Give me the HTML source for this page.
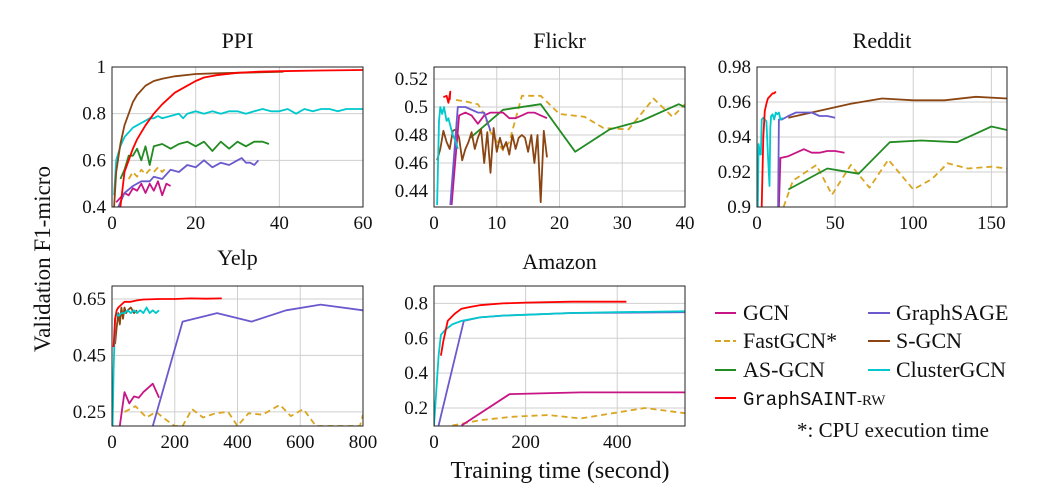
<!DOCTYPE html>
<html><head><meta charset="utf-8"><style>
body{margin:0;background:#fff}
svg{display:block;font-family:"Liberation Serif",serif}
</style></head><body>
<svg id="chart" width="1040" height="491" viewBox="0 0 1040 491"></svg>
<script>
const NS="http://www.w3.org/2000/svg";
const svg=document.getElementById('chart');
const COL={gcn:'#c71585',sage:'#6a5acd',fast:'#daa520',sgcn:'#8b4513',as:'#228b22',cluster:'#00c8cc',saint:'#ff0000'};
// ---- PPI data
const ppiSaintX=[2,3,4,5,6,8,10,12,15,18,20,22,25,30,35,40,50,60];
const ppiSaintY=[0.4,0.55,0.6,0.65,0.69,0.75,0.8,0.84,0.89,0.92,0.94,0.955,0.965,0.975,0.98,0.982,0.985,0.987];
const ppiSgcnX=[0.5,1,2,3,4,5,6,8,10,12,15,20,25,30,35,41];
const ppiSgcnY=[0.4,0.55,0.67,0.75,0.8,0.85,0.88,0.92,0.94,0.95,0.96,0.97,0.973,0.975,0.977,0.98];
const ppiClusterX=[0.5,1,2,3,4,5,6,7,8,9,10,11,12,14,16,17,18,20,22,24,26,28,30,32,34,36,38,40,42,44,46,48,50,52,54,56,58,60];
const ppiClusterY=[0.45,0.6,0.66,0.7,0.72,0.74,0.75,0.76,0.77,0.78,0.78,0.79,0.78,0.79,0.8,0.78,0.8,0.81,0.8,0.81,0.8,0.81,0.81,0.8,0.81,0.82,0.81,0.81,0.82,0.8,0.82,0.81,0.82,0.82,0.81,0.82,0.82,0.82];
const ppiAsX=[2,3,4,5,6,7,8,9,10,12,14,16,18,20,22,24,25,26,28,30,32,34,36,37.5];
const ppiAsY=[0.52,0.56,0.62,0.62,0.65,0.6,0.66,0.58,0.66,0.67,0.65,0.67,0.68,0.66,0.68,0.64,0.66,0.68,0.65,0.68,0.66,0.68,0.68,0.67];
const ppiSageX=[1.5,3,5,7,9,10,12,14,16,18,20,22,24,26,28,30,31,32,33,34,35];
const ppiSageY=[0.4,0.46,0.49,0.51,0.51,0.53,0.52,0.56,0.55,0.58,0.57,0.6,0.57,0.59,0.58,0.6,0.61,0.59,0.59,0.58,0.6];
const ppiFastX=[4,5,6,7,8,9,10,11,12,13];
const ppiFastY=[0.52,0.55,0.53,0.56,0.54,0.56,0.55,0.57,0.55,0.57];
const ppiGcnX=[1,2,3,4,5,6,7,8,9,10,11,12,13,14];
const ppiGcnY=[0.42,0.44,0.46,0.45,0.48,0.47,0.5,0.46,0.5,0.47,0.51,0.45,0.5,0.49];
// ---- Flickr data
const flSaintX=[1.5,2,2.3,2.6,2.5];
const flSaintY=[0.507,0.508,0.503,0.511,0.505];
const flClusterX=[0.5,0.8,1,1.3,1.6,2,2.3,2.7,3,3.5,3.8];
const flClusterY=[0.43,0.49,0.5,0.495,0.5,0.49,0.492,0.485,0.48,0.475,0.47];
const flSageX=[2.6,3.8,5,7,8,9];
const flSageY=[0.43,0.5,0.5,0.496,0.496,0.483];
const flGcnX=[2.8,4,5,6,7,8,9,10,11,12,13,14,15,16,17,18];
const flGcnY=[0.43,0.494,0.496,0.494,0.488,0.494,0.496,0.496,0.496,0.492,0.492,0.494,0.496,0.496,0.494,0.492];
const flFastX=[3.5,5,7,8,9,11,12,14,17,20,24,27,31,35,38,40];
const flFastY=[0.505,0.504,0.502,0.495,0.482,0.469,0.475,0.508,0.508,0.495,0.493,0.485,0.484,0.506,0.493,0.502];
const flAsX=[5.8,11,17,22.5,28,33,39,40];
const flAsY=[0.478,0.498,0.502,0.468,0.484,0.49,0.502,0.5];
const flSgcnX=[0.5,1,1.5,2,2.5,3,3.5,4,4.5,5,5.5,6,6.5,7,7.5,8,8.5,9,9.5,10,10.5,11,11.5,12,12.5,13,13.5,14,14.5,15,15.5,16,16.5,17,17.5,18];
const flSgcnY=[0.462,0.47,0.483,0.475,0.47,0.483,0.484,0.478,0.462,0.47,0.475,0.482,0.47,0.478,0.484,0.46,0.482,0.453,0.485,0.468,0.478,0.47,0.475,0.466,0.48,0.47,0.478,0.48,0.478,0.468,0.48,0.46,0.48,0.432,0.483,0.464];
// ---- Reddit data
const rdSaintX=[3,4,5,6,7,8,9,10,11,12];
const rdSaintY=[0.9,0.94,0.955,0.959,0.962,0.963,0.964,0.965,0.965,0.966];
const rdClusterX=[0.5,1,2,2.5,3,4,5,6,7,8,8.5,9,10,11,12,13,14,15,16.5];
const rdClusterY=[0.9,0.936,0.93,0.93,0.95,0.951,0.95,0.949,0.93,0.912,0.945,0.952,0.953,0.95,0.954,0.953,0.954,0.95,0.951];
const rdSageX=[13.5,14,16,20,25,30,35,40,45,50];
const rdSageY=[0.9,0.95,0.95,0.952,0.954,0.954,0.954,0.952,0.952,0.951];
const rdGcnX=[14,15,20,25,30,35,40,45,50,56];
const rdGcnY=[0.9,0.928,0.929,0.931,0.933,0.931,0.931,0.932,0.932,0.931];
const rdSgcnX=[20,40,60,80,100,120,140,160];
const rdSgcnY=[0.951,0.955,0.959,0.962,0.961,0.961,0.963,0.962];
const rdAsX=[20,45,65,85,105,128,150,160];
const rdAsY=[0.91,0.922,0.919,0.937,0.938,0.937,0.946,0.944];
const rdFastX=[17,23,38,48,60,72,84,100,112,122,135,150,160];
const rdFastY=[0.9,0.915,0.924,0.907,0.924,0.911,0.927,0.91,0.916,0.925,0.922,0.923,0.922];
// ---- Yelp data
const ySaintX=[5,10,15,20,30,40,60,80,100,150,200,250,300,350];
const ySaintY=[0.48,0.58,0.61,0.62,0.63,0.64,0.64,0.645,0.648,0.65,0.65,0.652,0.651,0.652];
const ySgcnX=[10,15,20,25,30,35,40,45,50,60,70,80];
const ySgcnY=[0.49,0.55,0.6,0.56,0.62,0.58,0.62,0.6,0.61,0.62,0.6,0.61];
const yClusterX=[2,5,10,15,20,30,40,50,60,70,80,90,100,110,120,130,140,150];
const yClusterY=[0.2,0.4,0.58,0.6,0.59,0.6,0.6,0.61,0.6,0.61,0.6,0.61,0.6,0.62,0.6,0.61,0.6,0.61];
const yGcnX=[25,40,55,70,85,100,130,150];
const yGcnY=[0.2,0.32,0.28,0.305,0.3,0.32,0.35,0.3];
const ySageX=[130,225,335,445,555,665,800];
const ySageY=[0.2,0.57,0.6,0.57,0.61,0.63,0.61];
const yFastX=[40,75,110,140,175,200,225,255,290,330,370,400,435,480,535,570,610,650,790,800];
const yFastY=[0.25,0.27,0.23,0.25,0.22,0.2,0.2,0.26,0.23,0.245,0.25,0.2,0.245,0.24,0.275,0.235,0.26,0.2,0.2,0.24];
// ---- Amazon data
const aSaintX=[15,20,30,45,60,80,100,150,200,300,400,420];
const aSaintY=[0.5,0.58,0.7,0.74,0.77,0.78,0.79,0.8,0.805,0.81,0.81,0.81];
const aClusterX=[0,10,15,25,40,60,80,100,150,200,300,400,550];
const aClusterY=[0.1,0.5,0.62,0.65,0.68,0.7,0.71,0.72,0.73,0.735,0.745,0.75,0.755];
const aSageX=[10,65,100,150,300,550];
const aSageY=[0.1,0.7,0.72,0.73,0.745,0.75];
const aGcnX=[60,165,320,550];
const aGcnY=[0.1,0.28,0.29,0.29];
const aFastX=[40,100,170,250,320,460,550];
const aFastY=[0.1,0.13,0.15,0.16,0.14,0.2,0.17];

const panels=[
 {name:'ppi',title:'PPI',px:112,py:67,pw:251,ph:140,x0:0,x1:60,y0:0.4,y1:1,xt:[0,20,40,60],yt:[0.4,0.6,0.8,1],yl:['0.4','0.6','0.8','1'],ty:48,
  series:[['gcn',ppiGcnX,ppiGcnY],['fast',ppiFastX,ppiFastY],['sage',ppiSageX,ppiSageY],['as',ppiAsX,ppiAsY],['cluster',ppiClusterX,ppiClusterY],['sgcn',ppiSgcnX,ppiSgcnY],['saint',ppiSaintX,ppiSaintY]]},
 {name:'flickr',title:'Flickr',px:434,py:67,pw:251,ph:140,x0:0,x1:40,y0:0.4286,y1:0.5286,xt:[0,10,20,30,40],yt:[0.44,0.46,0.48,0.5,0.52],yl:['0.44','0.46','0.48','0.5','0.52'],ty:48,
  series:[['fast',flFastX,flFastY],['as',flAsX,flAsY],['sgcn',flSgcnX,flSgcnY],['gcn',flGcnX,flGcnY],['sage',flSageX,flSageY],['cluster',flClusterX,flClusterY],['saint',flSaintX,flSaintY]]},
 {name:'reddit',title:'Reddit',px:757,py:67,pw:250,ph:140,x0:0,x1:160,y0:0.9,y1:0.98,xt:[0,50,100,150],yt:[0.9,0.92,0.94,0.96,0.98],yl:['0.9','0.92','0.94','0.96','0.98'],ty:48,
  series:[['fast',rdFastX,rdFastY],['as',rdAsX,rdAsY],['sgcn',rdSgcnX,rdSgcnY],['gcn',rdGcnX,rdGcnY],['sage',rdSageX,rdSageY],['cluster',rdClusterX,rdClusterY],['saint',rdSaintX,rdSaintY]]},
 {name:'yelp',title:'Yelp',px:112,py:286,pw:251,ph:140,x0:0,x1:800,y0:0.2,y1:0.696,xt:[0,200,400,600,800],yt:[0.25,0.45,0.65],yl:['0.25','0.45','0.65'],ty:265,
  series:[['fast',yFastX,yFastY],['gcn',yGcnX,yGcnY],['sage',ySageX,ySageY],['sgcn',ySgcnX,ySgcnY],['cluster',yClusterX,yClusterY],['saint',ySaintX,ySaintY]]},
 {name:'amazon',title:'Amazon',px:434,py:286,pw:251,ph:140,x0:0,x1:548,y0:0.097,y1:0.9,xt:[0,200,400],yt:[0.2,0.4,0.6,0.8],yl:['0.2','0.4','0.6','0.8'],ty:269,
  series:[['fast',aFastX,aFastY],['gcn',aGcnX,aGcnY],['sage',aSageX,aSageY],['cluster',aClusterX,aClusterY],['saint',aSaintX,aSaintY]]}
];
function mk(tag,attrs,parent){const e=document.createElementNS(NS,tag);for(const k in attrs)e.setAttribute(k,attrs[k]);(parent||svg).appendChild(e);return e;}
const defs=mk('defs',{});
panels.forEach(p=>{
  const g=mk('g',{});
  
  
  const sx=v=>p.px+(v-p.x0)/(p.x1-p.x0)*p.pw;
  const sy=v=>p.py+p.ph-(v-p.y0)/(p.y1-p.y0)*p.ph;
  const cp=mk('clipPath',{id:'c-'+p.name},defs);
  mk('rect',{x:p.px,y:p.py,width:p.pw,height:p.ph},cp);
  p.xt.forEach(t=>{
    const l=mk('line',{x1:sx(t),x2:sx(t),y1:p.py,y2:p.py+p.ph,stroke:'#cfcfcf','stroke-width':1},g);
    
    
    const tx=mk('text',{x:sx(t),y:p.py+p.ph+22,'text-anchor':'middle','font-size':19,fill:'#111'},g);
    tx.textContent=t;
    
    
  });
  p.yt.forEach((t,i)=>{
    const l=mk('line',{x1:p.px,x2:p.px+p.pw,y1:sy(t),y2:sy(t),stroke:'#cfcfcf','stroke-width':1},g);
    
    
    const tx=mk('text',{x:p.px-6,y:sy(t)+6,'text-anchor':'end','font-size':19,fill:'#111'},g);
    tx.textContent=p.yl[i];
    
    
  });
  const sg=mk('g',{'clip-path':'url(#c-'+p.name+')'},g);
  p.series.forEach(s=>{
    const d=s[1].map((x,i)=>(i?'L':'M')+sx(x).toFixed(1)+','+sy(s[2][i]).toFixed(1)).join('');
    const path=mk('path',{d:d,fill:'none',stroke:COL[s[0]],'stroke-width':1.8,'stroke-linejoin':'round'},sg);
    if(s[0]==='fast')path.setAttribute('stroke-dasharray','6,4');
    
    
  });
  const fr=mk('rect',{x:p.px,y:p.py,width:p.pw,height:p.ph,fill:'none',stroke:'#222','stroke-width':1},g);
  
  
  const tt=mk('text',{x:p.px+p.pw/2,y:p.ty,'text-anchor':'middle','font-size':22,fill:'#111'},g);
  tt.textContent=p.title;
  
  
});
</script>
<svg width="1040" height="491" style="position:absolute;left:0;top:0" font-family="Liberation Serif, serif">
 <text x="50" y="259" transform="rotate(-90 50 259)" text-anchor="middle" font-size="23" fill="#111">Validation F1-micro</text>
 <text x="560" y="478" text-anchor="middle" font-size="24" fill="#111">Training time (second)</text>
 <g font-size="22" fill="#111">
  <g><line x1="715" x2="736" y1="313" y2="313" stroke="#c71585" stroke-width="2"/><text x="743" y="320">GCN</text></g>
  <g><line x1="715" x2="736" y1="341" y2="341" stroke="#daa520" stroke-width="2" stroke-dasharray="6,3"/><text x="743" y="348">FastGCN*</text></g>
  <g><line x1="715" x2="736" y1="370" y2="370" stroke="#228b22" stroke-width="2"/><text x="743" y="377">AS-GCN</text></g>
  <g><line x1="715" x2="736" y1="398" y2="398" stroke="#ff0000" stroke-width="2"/><text x="743" y="405" font-family="Liberation Mono, monospace" font-size="19">GraphSAINT<tspan font-family="Liberation Serif, serif" font-size="15">-RW</tspan></text></g>
  <g><line x1="868" x2="890" y1="313" y2="313" stroke="#6a5acd" stroke-width="2"/><text x="896" y="320">GraphSAGE</text></g>
  <g><line x1="868" x2="890" y1="341" y2="341" stroke="#8b4513" stroke-width="2"/><text x="896" y="348">S-GCN</text></g>
  <g><line x1="868" x2="890" y1="370" y2="370" stroke="#00c8cc" stroke-width="2"/><text x="896" y="377">ClusterGCN</text></g>
  <text x="797" y="437" font-size="21">*: CPU execution time</text>
 </g>
</svg>
</body></html>
